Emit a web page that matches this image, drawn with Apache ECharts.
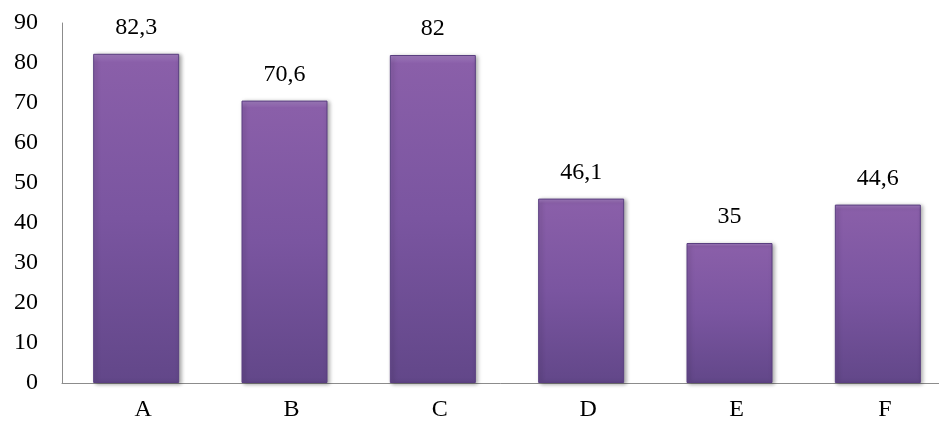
<!DOCTYPE html>
<html><head><meta charset="utf-8">
<script src="https://cdn.jsdelivr.net/npm/echarts@6/dist/echarts.min.js"></script>
<style>html,body{margin:0;padding:0;background:#fff}#c{width:939px;height:425px}</style>
</head><body><div id="c"></div>
<script>
const categories = ['A','B','C','D','E','F'];
const values = [82.3, 70.6, 82, 46.1, 35, 44.6];
const valueLabels = ['82,3','70,6','82','46,1','35','44,6'];

const chart = echarts.init(document.getElementById('c'));
const font = '"Liberation Serif","Times New Roman",serif';
chart.setOption({
  animation: false,
  grid: { left: 62, top: 23, width: 890, height: 360, containLabel: false, outerBoundsMode: 'none' },
  xAxis: {
    type: 'category', data: categories,
    axisLine: { lineStyle: { color: '#8c8c8c', width: 1 } },
    axisTick: { show: false },
    axisLabel: { color: '#000', fontFamily: font, fontSize: 24, margin: 15, padding: [0,0,0,14] }
  },
  yAxis: {
    type: 'value', min: 0, max: 90, interval: 10,
    axisLine: { show: true, lineStyle: { color: '#8c8c8c', width: 1 } },
    axisTick: { show: false },
    splitLine: { show: false },
    axisLabel: { color: '#000', fontFamily: font, fontSize: 24, margin: 24 }
  },
  series: [{
    type: 'bar', data: values, barWidth: 86,
    itemStyle: {
      color: new echarts.graphic.LinearGradient(0,0,0,1,[
        {offset:0, color:'#a47fc2'},
        {offset:0.025, color:'#8a5fa9'},
        {offset:0.5, color:'#7a55a0'},
        {offset:1, color:'#624789'}
      ]),
      borderColor: '#5a3f80', borderWidth: 1,
      shadowColor: 'rgba(0,0,0,0.35)', shadowBlur: 4, shadowOffsetX: 2, shadowOffsetY: 1
    },
    label: {
      show: true, position: 'top', distance: 14,
      color: '#000', fontFamily: font, fontSize: 24,
      formatter: p => valueLabels[p.dataIndex]
    }
  }]
});
</script></body></html>
